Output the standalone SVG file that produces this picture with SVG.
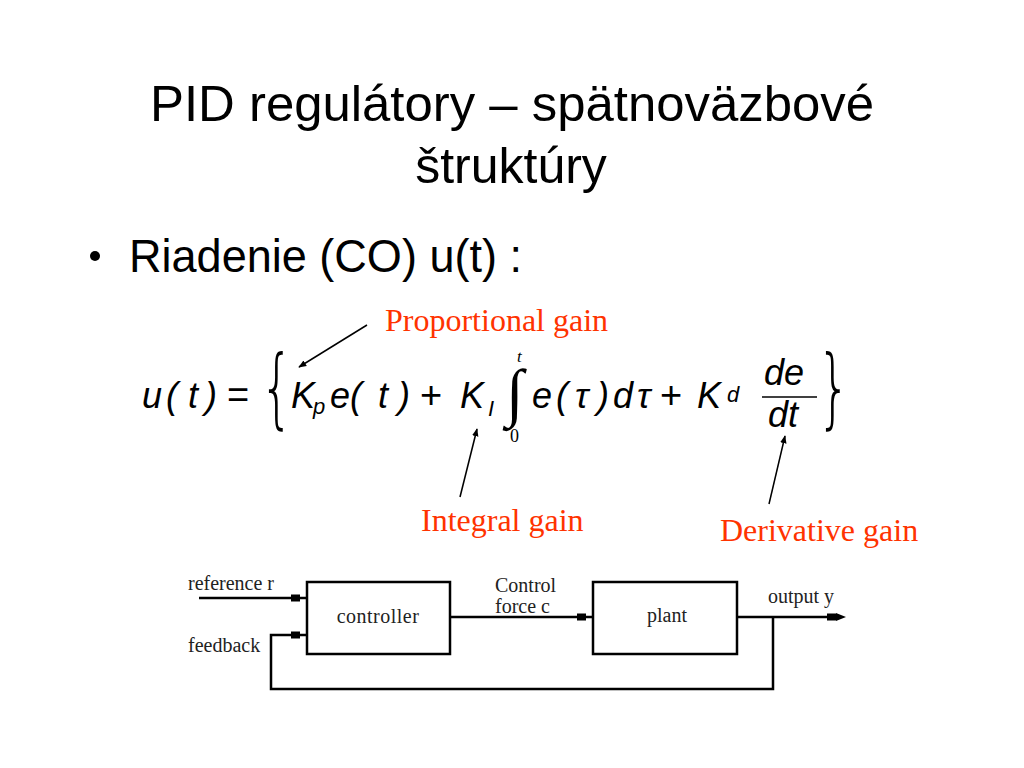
<svg xmlns="http://www.w3.org/2000/svg" width="1024" height="768" viewBox="0 0 1024 768">
<defs>
<style>
.title{font-family:"Liberation Sans",Arial,sans-serif;font-size:50px;fill:#000}
.bullet{font-family:"Liberation Sans",Arial,sans-serif;font-size:46px;fill:#000}
.m{font-family:"Liberation Sans",Arial,sans-serif;font-style:italic;font-size:36px;fill:#000}
.mn{font-family:"Liberation Sans",Arial,sans-serif;font-size:38px;fill:#000}
.sub{font-family:"Liberation Sans",Arial,sans-serif;font-style:italic;font-size:22px;fill:#000}
.ser{font-family:"Liberation Serif","Times New Roman",serif;fill:#000}
.brace{font-family:"DejaVu Sans","Liberation Sans",sans-serif;font-weight:200;font-size:88px;fill:#000}
.red{font-family:"Liberation Serif","Times New Roman",serif;font-size:32px;fill:#ff3300}
.bd{font-family:"Liberation Serif","Times New Roman",serif;font-size:20px;fill:#222}
.ln{fill:none;stroke:#000;stroke-width:2.5}
.ann{fill:none;stroke:#000;stroke-width:1.5}
.box{fill:#fff;stroke:#000;stroke-width:2.5}
</style>
<marker id="ah" viewBox="0 0 10 10" refX="9" refY="5" markerWidth="8" markerHeight="8" markerUnits="userSpaceOnUse" orient="auto">
<path d="M0,1 L10,5 L0,9 Z" fill="#000"/>
</marker>
</defs>
<rect width="1024" height="768" fill="#fff"/>

<g id="title">
<text class="title" x="512" y="121" text-anchor="middle" textLength="724" lengthAdjust="spacingAndGlyphs">PID regulátory – spätnoväzbové</text>
<text class="title" x="511" y="183" text-anchor="middle">štruktúry</text>
</g>

<g id="bullet">
<circle cx="95" cy="256" r="5" fill="#000"/>
<text class="bullet" x="129" y="272" textLength="393" lengthAdjust="spacingAndGlyphs">Riadenie (CO) u(t) :</text>
</g>

<g id="equation">
<text class="m" x="142" y="408">u</text>
<text class="m" x="166" y="408">(</text>
<text class="m" x="188" y="408">t</text>
<text class="m" x="205" y="408">)</text>
<text class="mn" x="227" y="408">=</text>
<text class="brace" transform="translate(260,417) scale(0.6,1)">{</text>
<text class="m" x="291" y="408">K</text>
<text class="sub" x="313" y="414">p</text>
<text class="m" x="330" y="408">e</text>
<text class="m" x="350" y="408">(</text>
<text class="m" x="378" y="408">t</text>
<text class="m" x="398" y="408">)</text>
<text class="mn" x="420" y="408">+</text>
<text class="m" x="460" y="408">K</text>
<text class="sub" x="488" y="416">I</text>
<text class="ser" font-size="64" x="506" y="414">∫</text>
<text class="ser" font-size="17" font-style="italic" x="517" y="362">t</text>
<text class="ser" font-size="18" x="510" y="442">0</text>
<text class="m" x="532" y="408">e</text>
<text class="m" x="556" y="408">(</text>
<text class="m" x="575" y="408">τ</text>
<text class="m" x="597" y="408">)</text>
<text class="m" x="613" y="408">d</text>
<text class="m" x="637" y="408">τ</text>
<text class="mn" x="660" y="408">+</text>
<text class="m" x="697" y="408">K</text>
<text class="sub" x="727" y="402">d</text>
<text class="m" x="764" y="385">de</text>
<line x1="762" y1="397" x2="817" y2="397" stroke="#000" stroke-width="1.5"/>
<text class="m" x="768" y="427">dt</text>
<text class="brace" transform="translate(817,417) scale(0.6,1)">}</text>
</g>

<g id="annotations">
<text class="red" x="385" y="331">Proportional gain</text>
<text class="red" x="421" y="531">Integral gain</text>
<text class="red" x="720" y="541">Derivative gain</text>
<line class="ann" x1="367" y1="325" x2="299" y2="367" marker-end="url(#ah)"/>
<line class="ann" x1="460" y1="497" x2="477" y2="429" marker-end="url(#ah)"/>
<line class="ann" x1="769" y1="504" x2="785" y2="436" marker-end="url(#ah)"/>
</g>

<g id="connectors">
<line class="ln" x1="199" y1="598" x2="307" y2="598"/>
<rect x="291" y="594.5" width="9" height="7" fill="#000"/>
<polyline class="ln" points="773,617 773,689 271,689 271,635 307,635"/>
<rect x="291" y="631.5" width="9" height="7" fill="#000"/>
<line class="ln" x1="450" y1="617" x2="593" y2="617"/>
<rect x="577" y="613.5" width="9" height="7" fill="#000"/>
<line class="ln" x1="737" y1="617" x2="838" y2="617"/>
<rect x="827" y="613.5" width="9" height="7" fill="#000"/>
<path d="M836,613 L846,617 L836,621 Z" fill="#000"/>
</g>

<g id="controller">
<rect class="box" x="307" y="582" width="143" height="72"/>
<text class="bd" x="378" y="623" text-anchor="middle" letter-spacing="0.5">controller</text>
</g>

<g id="plant">
<rect class="box" x="593" y="582" width="144" height="72"/>
<text class="bd" x="667" y="622" text-anchor="middle">plant</text>
</g>

<g id="labels">
<text class="bd" x="188" y="590">reference r</text>
<text class="bd" x="188" y="652">feedback</text>
<text class="bd" x="495" y="592">Control</text>
<text class="bd" x="495" y="613">force c</text>
<text class="bd" x="768" y="603">output y</text>
</g>
</svg>
